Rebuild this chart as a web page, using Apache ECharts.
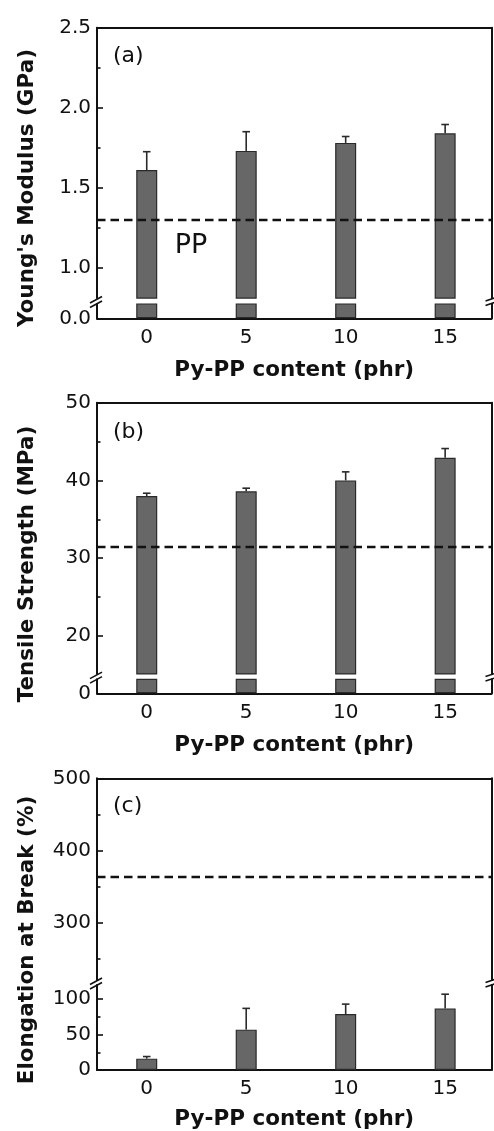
<!DOCTYPE html>
<html>
<head>
<meta charset="utf-8">
<script src="https://cdn.jsdelivr.net/npm/echarts@6/dist/echarts.min.js"></script>
<style>
html,body{margin:0;padding:0;background:#fff;}
#chart{width:494px;height:1131px;}
</style>
</head>
<body>
<div id="chart"></div>
<script>
// ---- data ----
const contents = [0, 5, 10, 15];
const xTickLabels = [0, 5, 10, 15];
const modulus = [1.61, 1.73, 1.78, 1.84];
const modulusErr = [0.115, 0.12, 0.04, 0.055];
const strength = [38.0, 38.6, 40.0, 42.9];
const strengthErr = [0.35, 0.4, 1.1, 1.2];
const elongation = [16, 57, 79, 87];
const elongationErr = [3, 30, 14, 20];
const ppModulus = 1.30;
const ppStrength = 31.4;
const ppElongation = 363;
const modulusTicks = [1.0, 1.5, 2.0, 2.5];
const modulusMinor = [1.25, 1.75, 2.25];
const strengthTicks = [20, 30, 40, 50];
const strengthMinor = [25, 35, 45];
const elongUpperTicks = [300, 400, 500];
const elongUpperMinor = [250, 350, 450];
const elongLowerTicks = [0, 50, 100];
const elongLowerMinor = [25, 75];
const xTitle = 'Py-PP content (phr)';
const yTitles = ["Young's Modulus (GPa)", 'Tensile Strength (MPa)', 'Elongation at Break (%)'];
const panelTags = ['(a)', '(b)', '(c)'];

// ---- layout / style ----
const FONT = '"DejaVu Sans", "Liberation Sans", Arial, sans-serif';
const TXT = '#111';
const AX = '#111';
const L = 97, W = 394.5, R = L + W;
const X_MIN = -2.5, X_MAX = 17.33;
const lineStyle = { color: AX, width: 2 };
const tickStyle = { color: AX, width: 1.6 };
const barStyle = { color: '#676767', borderColor: '#2a2a2a', borderWidth: 1.2 };
const LABEL_SIZE = 20;

const grids = [], xAxes = [], yAxes = [], series = [], graphics = [];

function yAxisBase(grid, min, max, pos) {
  return { type: 'value', gridIndex: grid, position: pos, min: min, max: max,
    splitLine: { show: false }, axisLine: { show: false, onZero: false, lineStyle: lineStyle },
    axisTick: { show: false }, axisLabel: { show: false } };
}

function addPanel(p) {
  const gU = grids.length;
  grids.push({ left: L, width: W, top: p.uTop, height: p.uBottom - p.uTop, outerBoundsMode: 'none', containLabel: false });
  const gL = grids.length;
  grids.push({ left: L, width: W, top: p.lTop, height: p.lBottom - p.lTop, outerBoundsMode: 'none', containLabel: false });

  const xU = xAxes.length;
  xAxes.push({ type: 'value', gridIndex: gU, position: 'top', min: X_MIN, max: X_MAX,
    axisLine: { show: true, onZero: false, lineStyle: lineStyle }, axisTick: { show: false },
    axisLabel: { show: false }, splitLine: { show: false } });
  const xL = xAxes.length;
  xAxes.push({ type: 'value', gridIndex: gL, position: 'bottom', min: X_MIN, max: X_MAX,
    axisLine: { show: true, onZero: false, lineStyle: lineStyle }, axisTick: { show: false },
    axisLabel: { show: true, customValues: xTickLabels, margin: 9, color: TXT, fontSize: LABEL_SIZE, fontFamily: FONT },
    splitLine: { show: false },
    name: xTitle, nameLocation: 'middle', nameGap: p.nameGap,
    nameTextStyle: { color: TXT, fontSize: 21.5, fontWeight: 'bold', fontFamily: FONT } });

  // upper axes
  const yU = yAxes.length;
  const ya = yAxisBase(gU, p.uMin, p.uMax, 'left');
  ya.axisLine.show = true;
  ya.axisTick = { show: true, inside: true, length: 6, customValues: p.uMajor, lineStyle: tickStyle };
  ya.axisLabel = { show: true, customValues: p.uMajor, margin: 6, color: TXT, fontSize: LABEL_SIZE, fontFamily: FONT, formatter: p.fmt };
  yAxes.push(ya);
  const ym = yAxisBase(gU, p.uMin, p.uMax, 'left');
  ym.axisTick = { show: true, inside: true, length: 3.5, customValues: p.uMinor, lineStyle: tickStyle };
  yAxes.push(ym);
  const yr = yAxisBase(gU, p.uMin, p.uMax, 'right');
  yr.axisLine.show = true;
  yAxes.push(yr);

  // lower axes
  const yLo = yAxes.length;
  const yb = yAxisBase(gL, p.lMin, p.lMax, 'left');
  yb.axisLine.show = true;
  yb.axisTick = { show: true, inside: true, length: 6, customValues: p.lMajor, lineStyle: tickStyle };
  yb.axisLabel = { show: true, customValues: p.lMajor, margin: 6, color: TXT, fontSize: LABEL_SIZE, fontFamily: FONT, formatter: p.fmt };
  yAxes.push(yb);
  if (p.lMinor.length) {
    const ylm = yAxisBase(gL, p.lMin, p.lMax, 'left');
    ylm.axisTick = { show: true, inside: true, length: 3.5, customValues: p.lMinor, lineStyle: tickStyle };
    yAxes.push(ylm);
  }
  const ylr = yAxisBase(gL, p.lMin, p.lMax, 'right');
  ylr.axisLine.show = true;
  yAxes.push(ylr);

  const pts = contents.map((c, i) => [c, p.vals[i], p.errs[i]]);
  const bar = (xi, yi, withLine) => {
    const s = { type: 'bar', xAxisIndex: xi, yAxisIndex: yi, data: pts.map(d => [d[0], d[1]]),
      barWidth: 21, itemStyle: barStyle, clip: true, silent: true, animation: false };
    if (withLine) {
      s.markLine = { silent: true, symbol: ['none', 'none'], label: { show: false },
        lineStyle: { type: [8.5, 5], color: '#111', width: 2.4 }, data: [{ yAxis: p.pp }], animation: false };
    }
    return s;
  };
  series.push(bar(xU, yU, true));
  series.push(bar(xL, yLo, false));
  series.push({ type: 'custom', xAxisIndex: p.errLower ? xL : xU, yAxisIndex: p.errLower ? yLo : yU,
    data: pts, silent: true, animation: false, z: 3,
    renderItem: function (params, api) {
      const x = api.value(0), v = api.value(1), e = api.value(2);
      const a = api.coord([x, v]), b = api.coord([x, v + e]);
      const st = { stroke: '#2a2a2a', lineWidth: 1.6 };
      return { type: 'group', children: [
        { type: 'line', shape: { x1: a[0], y1: a[1], x2: b[0], y2: b[1] }, style: st },
        { type: 'line', shape: { x1: b[0] - 3.8, y1: b[1], x2: b[0] + 3.8, y2: b[1] }, style: st }
      ] };
    } });

  // break marks
  const yg = (p.uBottom + p.lTop) / 2;
  const ms = { stroke: AX, lineWidth: 1.6 };
  graphics.push({ type: 'line', shape: { x1: L - 7, y1: yg + 2, x2: L + 5, y2: yg - 4.5 }, style: ms, z: 10 });
  graphics.push({ type: 'line', shape: { x1: L - 7, y1: yg + 6.5, x2: L + 5, y2: yg }, style: ms, z: 10 });
  graphics.push({ type: 'line', shape: { x1: R - 6, y1: yg, x2: R + 3, y2: yg - 3 }, style: ms, z: 10 });
  graphics.push({ type: 'line', shape: { x1: R - 6, y1: yg + 4.5, x2: R + 3, y2: yg + 1.5 }, style: ms, z: 10 });
  // panel titles
  graphics.push({ type: 'text', x: 27, y: p.yTitleY, rotation: Math.PI / 2,
    style: { text: p.yTitle, fill: TXT, font: 'bold 21.5px ' + FONT, align: 'center', verticalAlign: 'middle',
      textAlign: 'center', textVerticalAlign: 'middle' } });
  graphics.push({ type: 'text', x: 113, y: p.tagY,
    style: { text: p.tag, fill: TXT, font: '22px ' + FONT, align: 'left', verticalAlign: 'middle',
      textAlign: 'left', textVerticalAlign: 'middle' } });
}

const fmt1 = v => v.toFixed(1);
const fmt0 = v => String(Math.round(v));

addPanel({ uTop: 27.7, uBottom: 298.1, lTop: 304, lBottom: 318.3,
  uMin: 0.81, uMax: 2.5, lMin: 0, lMax: 0.09, uMajor: modulusTicks, uMinor: modulusMinor,
  lMajor: [0], lMinor: [], fmt: fmt1, vals: modulus, errs: modulusErr, pp: ppModulus,
  errLower: false, nameGap: 41, yTitle: yTitles[0], yTitleY: 188, tag: panelTags[0], tagY: 56 });
addPanel({ uTop: 402.7, uBottom: 673.9, lTop: 679.3, lBottom: 693.3,
  uMin: 15.1, uMax: 50, lMin: 0, lMax: 1.8, uMajor: strengthTicks, uMinor: strengthMinor,
  lMajor: [0], lMinor: [], fmt: fmt0, vals: strength, errs: strengthErr, pp: ppStrength,
  errLower: false, nameGap: 41, yTitle: yTitles[1], yTitleY: 564, tag: panelTags[1], tagY: 432 });
addPanel({ uTop: 778.3, uBottom: 980, lTop: 985, lBottom: 1070,
  uMin: 220, uMax: 500, lMin: 0, lMax: 120, uMajor: elongUpperTicks, uMinor: elongUpperMinor,
  lMajor: elongLowerTicks, lMinor: elongLowerMinor, fmt: fmt0, vals: elongation, errs: elongationErr, pp: ppElongation,
  errLower: true, nameGap: 38, yTitle: yTitles[2], yTitleY: 940, tag: panelTags[2], tagY: 806 });

graphics.push({ type: 'text', x: 191, y: 246,
  style: { text: 'PP', fill: TXT, font: '27px ' + FONT, align: 'center', verticalAlign: 'middle',
    textAlign: 'center', textVerticalAlign: 'middle' } });

const chart = echarts.init(document.getElementById('chart'), null, { renderer: 'canvas' });
chart.setOption({
  backgroundColor: '#fff',
  animation: false,
  textStyle: { fontFamily: FONT, color: TXT },
  grid: grids,
  xAxis: xAxes,
  yAxis: yAxes,
  series: series,
  graphic: graphics
});
</script>
</body>
</html>
